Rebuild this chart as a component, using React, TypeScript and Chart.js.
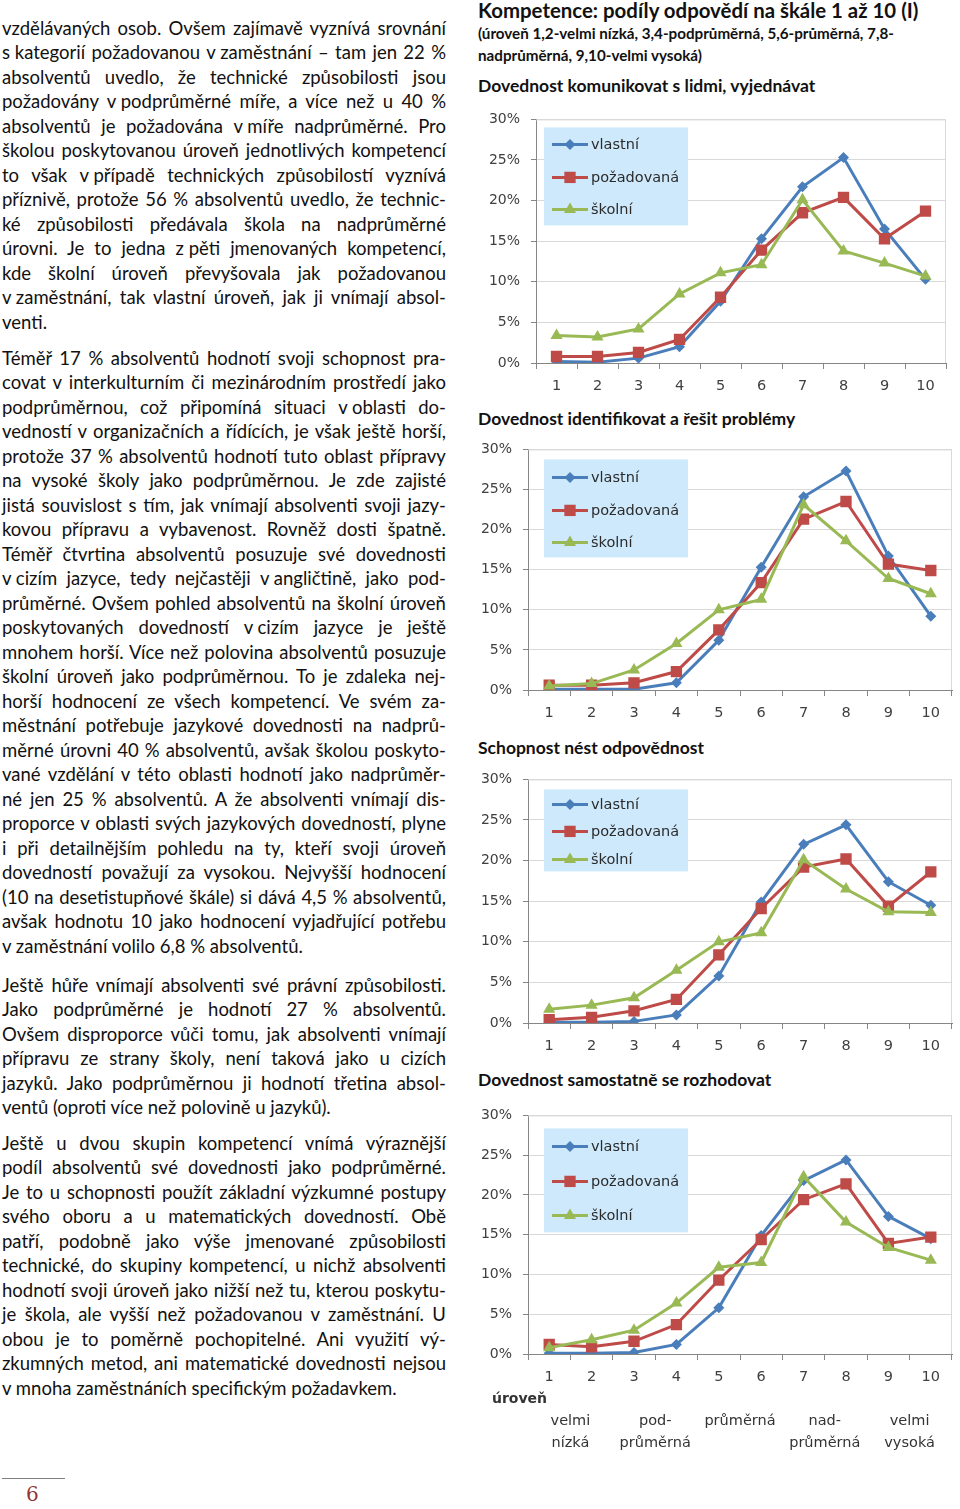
import React, { useEffect, useLayoutEffect, useRef } from "react";
import { Chart, registerables } from "chart.js";

Chart.register(...registerables);

// ---------- DATA ----------
const levels = ["1", "2", "3", "4", "5", "6", "7", "8", "9", "10"];
const seriesLabels = ["vlastní", "požadovaná", "školní"];
const levelGroups = [["velmi", "nízká"], ["pod-", "průměrná"], ["průměrná"], ["nad-", "průměrná"], ["velmi", "vysoká"]];
const axisTitle = "úroveň";
const yMax = 30;
const yStep = 5;

const komunikaceVlastni = [0.2, 0.1, 0.6, 2.0, 7.6, 15.3, 21.7, 25.3, 16.5, 10.3];
const komunikacePozadovana = [0.8, 0.8, 1.3, 2.9, 8.1, 13.9, 18.5, 20.4, 15.3, 18.7];
const komunikaceSkolni = [3.4, 3.2, 4.2, 8.5, 11.1, 12.1, 20.1, 13.8, 12.3, 10.7];

const problemyVlastni = [0.1, 0.1, 0.1, 0.9, 6.2, 15.3, 24.1, 27.3, 16.7, 9.2];
const problemyPozadovana = [0.6, 0.6, 0.9, 2.3, 7.5, 13.4, 21.3, 23.5, 15.7, 14.9];
const problemySkolni = [0.5, 0.8, 2.5, 5.8, 10.0, 11.3, 23.1, 18.6, 13.9, 12.0];

const odpovednostVlastni = [0.1, 0.1, 0.2, 1.0, 5.8, 14.9, 22.0, 24.4, 17.4, 14.5];
const odpovednostPozadovana = [0.4, 0.7, 1.5, 2.9, 8.4, 14.1, 19.2, 20.2, 14.4, 18.6];
const odpovednostSkolni = [1.7, 2.2, 3.1, 6.5, 10.0, 11.1, 20.1, 16.5, 13.7, 13.6];

const rozhodovaniVlastni = [0.1, 0.1, 0.2, 1.2, 5.8, 14.9, 21.8, 24.4, 17.3, 14.5];
const rozhodovaniPozadovana = [1.2, 0.9, 1.6, 3.7, 9.3, 14.4, 19.4, 21.4, 13.9, 14.7];
const rozhodovaniSkolni = [0.8, 1.8, 3.0, 6.4, 10.9, 11.5, 22.3, 16.6, 13.4, 11.8];

const chartTitles = [
  "Dovednost komunikovat s lidmi, vyjednávat",
  "Dovednost identifikovat a řešit problémy",
  "Schopnost nést odpovědnost",
  "Dovednost samostatně se rozhodovat",
];
const pageTitle = "Kompetence: podíly odpovědí na škále 1 až 10  (I)";
const pageSubtitle1 = "(úroveň 1,2-velmi nízká, 3,4-podprůměrná, 5,6-průměrná, 7,8-";
const pageSubtitle2 = "nadprůměrná, 9,10-velmi vysoká)";
const pageNumber = "6";

const NB = "\u00a0";
const paragraph1 = [
  "vzdělávaných osob. Ovšem zajímavě vyznívá srovnání",
  `s${NB}kategorií požadovanou v${NB}zaměstnání – tam jen 22 %`,
  "absolventů uvedlo, že technické způsobilosti jsou",
  `požadovány v${NB}podprůměrné míře, a více než u 40 %`,
  `absolventů je požadována v${NB}míře nadprůměrné. Pro`,
  "školou poskytovanou úroveň jednotlivých kompetencí",
  `to však v${NB}případě technických způsobilostí vyznívá`,
  "příznivě, protože 56 % absolventů uvedlo, že technic-",
  "ké způsobilosti předávala škola na nadprůměrné",
  `úrovni. Je to jedna z${NB}pěti jmenovaných kompetencí,`,
  "kde školní úroveň převyšovala jak požadovanou",
  `v${NB}zaměstnání, tak vlastní úroveň, jak ji vnímají absol-`,
  "venti.",
];
const paragraph2 = [
  "Téměř 17 % absolventů hodnotí svoji schopnost pra-",
  "covat v interkulturním či mezinárodním prostředí jako",
  `podprůměrnou, což připomíná situaci v${NB}oblasti do-`,
  "vedností v organizačních a řídících, je však ještě horší,",
  "protože 37 % absolventů hodnotí tuto oblast přípravy",
  "na vysoké školy jako podprůměrnou. Je zde zajisté",
  "jistá souvislost s tím, jak vnímají absolventi svoji jazy-",
  "kovou přípravu a vybavenost. Rovněž dosti špatně.",
  "Téměř čtvrtina absolventů posuzuje své dovednosti",
  `v${NB}cizím jazyce, tedy nejčastěji v${NB}angličtině, jako pod-`,
  "průměrné. Ovšem pohled absolventů na školní úroveň",
  `poskytovaných dovedností v${NB}cizím jazyce je ještě`,
  "mnohem horší. Více než polovina absolventů posuzuje",
  "školní úroveň jako podprůměrnou. To je zdaleka nej-",
  "horší hodnocení ze všech kompetencí. Ve svém za-",
  "městnání potřebuje jazykové dovednosti na nadprů-",
  "měrné úrovni 40 % absolventů, avšak školou poskyto-",
  "vané vzdělání v této oblasti hodnotí jako nadprůměr-",
  "né jen 25 % absolventů. A že absolventi vnímají dis-",
  "proporce v oblasti svých jazykových dovedností, plyne",
  "i při detailnějším pohledu na ty, kteří svoji úroveň",
  "dovedností považují za vysokou. Nejvyšší hodnocení",
  "(10 na desetistupňové škále) si dává 4,5 % absolventů,",
  "avšak hodnotu 10 jako hodnocení vyjadřující potřebu",
  "v zaměstnání volilo 6,8 % absolventů.",
];
const paragraph3 = [
  "Ještě hůře vnímají absolventi své právní způsobilosti.",
  "Jako podprůměrné je hodnotí 27 % absolventů.",
  "Ovšem disproporce vůči tomu, jak absolventi vnímají",
  "přípravu ze strany školy, není taková jako u cizích",
  "jazyků. Jako podprůměrnou ji hodnotí třetina absol-",
  "ventů (oproti více než polovině u jazyků).",
];
const paragraph4 = [
  "Ještě u dvou skupin kompetencí vnímá výraznější",
  "podíl absolventů své dovednosti jako podprůměrné.",
  "Je to u schopnosti použít základní výzkumné postupy",
  "svého oboru a u matematických dovedností. Obě",
  "patří, podobně jako výše jmenované způsobilosti",
  "technické, do skupiny kompetencí, u nichž absolventi",
  "hodnotí svoji úroveň jako nižší než tu, kterou poskytu-",
  "je škola, ale vyšší než požadovanou v zaměstnání. U",
  "obou je to poměrně pochopitelné. Ani využití vý-",
  "zkumných metod, ani matematické dovednosti nejsou",
  "v mnoha zaměstnáních specifickým požadavkem.",
];

// ---------- STYLE / LAYOUT ----------
const COLORS = ["#4a7ebb", "#be4b48", "#98b954"];
const POINT_STYLES = ["rectRot", "rect", "triangle"];
const POINT_RADII = [5.5, 8, 7];
const CHART_FONT = "'DejaVu Sans', Verdana, sans-serif";
const TEXT_FONT = "Lato, 'Open Sans', sans-serif";
const CANVAS_LEFT = 476;
const COL_X = 2;
const COL_W = 444;
const LINE_H = 24.5;

type Layout = {
  top: number; height: number; plotTop: number; plotLeft: number; plotRight: number;
  padBottom: number; legend: { dx: number; dy: number; w: number; h: number; rows: number[] };
  titleY: number; levelsBelow?: boolean;
};

const layouts: Layout[] = [
  { top: 100, height: 300, plotTop: 115, plotLeft: 536, plotRight: 946, padBottom: 0,
    legend: { dx: 8, dy: 8, w: 144, h: 98, rows: [17, 50, 82] }, titleY: 86 },
  { top: 430, height: 297, plotTop: 445, plotLeft: 528, plotRight: 953, padBottom: 0,
    legend: { dx: 16, dy: 10, w: 144, h: 98, rows: [18, 51, 83] }, titleY: 419 },
  { top: 760, height: 300, plotTop: 775, plotLeft: 528, plotRight: 953, padBottom: 0,
    legend: { dx: 16, dy: 10, w: 144, h: 82, rows: [15, 42, 70] }, titleY: 748 },
  { top: 1096, height: 364, plotTop: 1111, plotLeft: 528, plotRight: 952, padBottom: 69,
    legend: { dx: 16, dy: 13, w: 144, h: 104, rows: [18, 53, 87] }, titleY: 1080, levelsBelow: true },
];

const chartSeries = [
  [komunikaceVlastni, komunikacePozadovana, komunikaceSkolni],
  [problemyVlastni, problemyPozadovana, problemySkolni],
  [odpovednostVlastni, odpovednostPozadovana, odpovednostSkolni],
  [rozhodovaniVlastni, rozhodovaniPozadovana, rozhodovaniSkolni],
];

function drawMarker(ctx: CanvasRenderingContext2D, style: string, x: number, y: number, r: number) {
  ctx.beginPath();
  if (style === "rectRot") {
    ctx.moveTo(x, y - r); ctx.lineTo(x + r, y); ctx.lineTo(x, y + r); ctx.lineTo(x - r, y);
  } else if (style === "rect") {
    const s = r * Math.SQRT1_2;
    ctx.rect(x - s, y - s, 2 * s, 2 * s);
  } else {
    const h = r * 1.5; const half = (r * Math.sqrt(3)) / 2;
    ctx.moveTo(x, y - r); ctx.lineTo(x + half, y + h - r); ctx.lineTo(x - half, y + h - r);
  }
  ctx.closePath();
  ctx.fill();
}

function makePlugin(layout: Layout) {
  return {
    id: "frameLegend",
    beforeDatasetsDraw(chart: any) {
      const { ctx, chartArea: a } = chart;
      ctx.save();
      ctx.strokeStyle = "#d9d9d9";
      ctx.lineWidth = 1;
      ctx.beginPath();
      ctx.moveTo(a.left, a.top + 0.5);
      ctx.lineTo(a.right - 0.5, a.top + 0.5);
      ctx.lineTo(a.right - 0.5, a.bottom);
      ctx.stroke();
      ctx.restore();
    },
    afterDraw(chart: any) {
      const { ctx, chartArea: a } = chart;
      const L = layout.legend;
      const bx = a.left + L.dx;
      const by = a.top + L.dy;
      ctx.save();
      ctx.fillStyle = "#cde9fb";
      ctx.fillRect(bx, by, L.w, L.h);
      chart.data.datasets.forEach((ds: any, i: number) => {
        const y = by + L.rows[i];
        const x0 = bx + 8;
        const x1 = bx + 44;
        ctx.strokeStyle = ds.borderColor;
        ctx.lineWidth = 3;
        ctx.beginPath();
        ctx.moveTo(x0, y);
        ctx.lineTo(x1, y);
        ctx.stroke();
        ctx.fillStyle = ds.borderColor;
        drawMarker(ctx, ds.pointStyle, (x0 + x1) / 2, y, ds.pointRadius);
        ctx.fillStyle = "#2b2b2b";
        ctx.font = `14.5px ${CHART_FONT}`;
        ctx.textBaseline = "middle";
        ctx.textAlign = "left";
        ctx.fillText(ds.label, x1 + 3, y + 1);
      });
      if (layout.levelsBelow) {
        const xs = chart.scales.x;
        const base = xs.bottom;
        ctx.fillStyle = "#333333";
        ctx.textBaseline = "middle";
        ctx.font = `bold 14px ${CHART_FONT}`;
        ctx.textAlign = "left";
        ctx.fillText(axisTitle, 492 - CANVAS_LEFT, base + 8);
        ctx.font = `14.5px ${CHART_FONT}`;
        ctx.textAlign = "center";
        levelGroups.forEach((g, gi) => {
          const xm = (xs.getPixelForTick(gi * 2) + xs.getPixelForTick(gi * 2 + 1)) / 2;
          g.forEach((t, li) => ctx.fillText(t, xm, base + 30 + li * 22));
        });
      }
      ctx.restore();
    },
  };
}

function LineChart({ index }: { index: number }) {
  const ref = useRef<HTMLCanvasElement>(null);
  const layout = layouts[index];
  useEffect(() => {
    const series = chartSeries[index];
    const chart = new Chart(ref.current!, {
      type: "line",
      data: {
        labels: levels,
        datasets: series.map((d, i) => ({
          label: seriesLabels[i],
          data: d,
          borderColor: COLORS[i],
          backgroundColor: COLORS[i],
          borderWidth: 3,
          pointStyle: POINT_STYLES[i] as any,
          pointRadius: POINT_RADII[i],
          pointBorderWidth: 0,
          pointBackgroundColor: COLORS[i],
          tension: 0,
          order: 2 - i,
        })),
      },
      options: {
        responsive: false,
        animation: false,
        devicePixelRatio: 1,
        layout: {
          padding: {
            left: 0,
            right: 960 - layout.plotRight,
            top: layout.plotTop - layout.top,
            bottom: layout.padBottom,
          },
        },
        plugins: { legend: { display: false }, tooltip: { enabled: false } },
        scales: {
          x: {
            offset: true,
            grid: { offset: true, drawOnChartArea: false, drawTicks: true, tickLength: 6, tickColor: "#868686" },
            border: { color: "#868686", width: 1 },
            ticks: { color: "#404040", font: { family: CHART_FONT, size: 14.5 }, padding: 9, maxRotation: 0, autoSkip: false },
            afterFit: (s: any) => { s.height = 37; },
          },
          y: {
            min: 0,
            max: yMax,
            ticks: { stepSize: yStep, callback: (v: any) => v + "%", color: "#404040", font: { family: CHART_FONT, size: 14 }, padding: 11 },
            grid: { color: "#d9d9d9", tickColor: "#868686", tickLength: 5 },
            border: { color: "#868686", width: 1 },
            afterFit: (s: any) => { s.width = layout.plotLeft - CANVAS_LEFT; },
          },
        },
      },
      plugins: [makePlugin(layout)],
    });
    return () => chart.destroy();
  }, []);
  return (
    <canvas
      ref={ref}
      width={484}
      height={layout.height}
      style={{ position: "absolute", left: CANVAS_LEFT, top: layout.top, width: 484, height: layout.height }}
    />
  );
}

function TextLine({ text, centerY, justify }: { text: string; centerY: number; justify: boolean }) {
  const ref = useRef<HTMLDivElement>(null);
  useLayoutEffect(() => {
    const d = ref.current;
    if (!d) return;
    const s = d.firstElementChild as HTMLElement;
    const w = s.getBoundingClientRect().width;
    if (w > COL_W + 0.5) d.style.transform = `scaleX(${COL_W / w})`;
  }, []);
  const parts = text.split(" ");
  return (
    <div
      ref={ref}
      style={{
        position: "absolute",
        left: COL_X,
        top: centerY - LINE_H / 2,
        width: COL_W,
        height: LINE_H,
        lineHeight: LINE_H + "px",
        whiteSpace: "nowrap",
        textAlign: justify ? "justify" : "left",
        textAlignLast: justify ? "justify" : "left",
        transformOrigin: "left top",
      } as any}
    >
      <span>
        {parts.map((p, i) => (
          <React.Fragment key={i}>
            {i > 0 ? " " : ""}
            {p.includes(NB) ? <span style={{ display: "inline-block" }}>{p}</span> : p}
          </React.Fragment>
        ))}
      </span>
    </div>
  );
}

function Paragraph({ lines, firstY }: { lines: string[]; firstY: number }) {
  return (
    <>
      {lines.map((l, i) => (
        <TextLine key={i} text={l} centerY={firstY + i * LINE_H} justify={i < lines.length - 1} />
      ))}
    </>
  );
}

export default function App() {
  return (
    <div
      style={{
        position: "absolute",
        left: 0,
        top: 0,
        width: 960,
        height: 1509,
        overflow: "hidden",
        background: "#ffffff",
        fontFamily: TEXT_FONT,
        fontSize: 18.5,
        color: "#111111",
      }}
    >
      <Paragraph lines={paragraph1} firstY={28} />
      <Paragraph lines={paragraph2} firstY={358} />
      <Paragraph lines={paragraph3} firstY={985} />
      <Paragraph lines={paragraph4} firstY={1143} />

      <div style={{ position: "absolute", left: 478, top: 10 - 12, fontSize: 20.4, fontWeight: 700, lineHeight: "24px", whiteSpace: "nowrap", color: "#111" }}>
        {pageTitle}
      </div>
      <div style={{ position: "absolute", left: 478, top: 33 - 10, fontSize: 15.2, fontWeight: 700, lineHeight: "20px", whiteSpace: "nowrap", color: "#111" }}>
        {pageSubtitle1}
      </div>
      <div style={{ position: "absolute", left: 478, top: 55 - 10, fontSize: 15.2, fontWeight: 700, lineHeight: "20px", whiteSpace: "nowrap", color: "#111" }}>
        {pageSubtitle2}
      </div>
      {layouts.map((l, i) => (
        <div key={"t" + i} style={{ position: "absolute", left: 478, top: l.titleY - 11, fontSize: 17.5, fontWeight: 700, lineHeight: "22px", whiteSpace: "nowrap", color: "#111" }}>
          {chartTitles[i]}
        </div>
      ))}
      {layouts.map((_, i) => (
        <LineChart key={"c" + i} index={i} />
      ))}

      <div style={{ position: "absolute", left: 2, top: 1478, width: 63, height: 1, background: "#7f7f7f" }} />
      <div style={{ position: "absolute", left: 26, top: 1482, fontFamily: "'DejaVu Serif', 'Liberation Serif', serif", fontSize: 20, lineHeight: "24px", color: "#943634" }}>
        {pageNumber}
      </div>
    </div>
  );
}
